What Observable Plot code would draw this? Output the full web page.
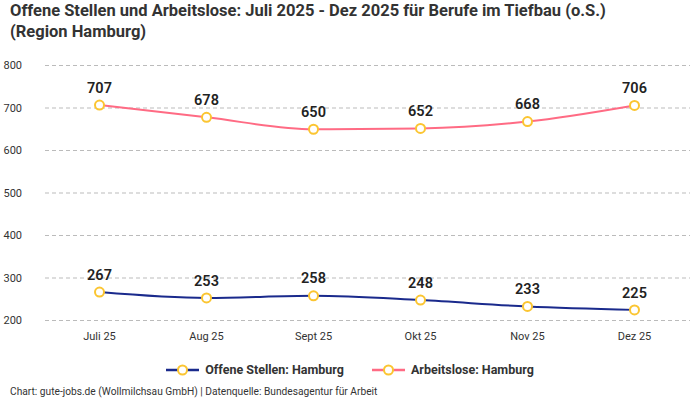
<!DOCTYPE html>
<html><head><meta charset="utf-8">
<script src="https://cdn.jsdelivr.net/npm/d3@7"></script>
<script src="https://cdn.jsdelivr.net/npm/@observablehq/plot@0.6"></script>
<style>
body{margin:0;background:#fff;font-family:"Roboto","Noto Sans",sans-serif;}
#wrap{width:700px;height:400px;position:relative;overflow:hidden;}
#title{position:absolute;left:10px;top:0px;font-size:16.5px;font-weight:700;color:#333;line-height:21px;}
#chart{position:absolute;left:0;top:45px;}
#legend{position:absolute;left:0;width:700px;top:362px;text-align:center;font-size:12.5px;font-weight:700;color:#333;}
#legend span.item{display:inline-flex;align-items:center;margin:0 14px;}
#caption{position:absolute;left:10px;top:386px;font-size:10.2px;color:#333;}
</style></head>
<body><div id="wrap">
<div id="title">Offene Stellen und Arbeitslose: Juli 2025 - Dez 2025 für Berufe im Tiefbau (o.S.)<br>(Region Hamburg)</div>
<div id="chart"></div>
<div id="legend"></div>
<div id="caption">Chart: gute-jobs.de (Wollmilchsau GmbH) | Datenquelle: Bundesagentur für Arbeit</div>
</div>
<script>
const months = ["Juli 25","Aug 25","Sept 25","Okt 25","Nov 25","Dez 25"];
const offeneStellen = [267,253,258,248,233,225];
const arbeitslose = [707,678,650,652,668,706];
const yTicks = [200,300,400,500,600,700,800];
const seriesNames = ["Offene Stellen: Hamburg","Arbeitslose: Hamburg"];
const seriesColors = ["#1a2a8c","#ff6b84"];
const pointStroke = "#fbc531";

const data = [];
months.forEach((m,i)=>{
  data.push({month:m, value:offeneStellen[i], series:seriesNames[0]});
  data.push({month:m, value:arbeitslose[i], series:seriesNames[1]});
});

const chart = Plot.plot({
  width:700, height:310,
  marginTop:20, marginBottom:35, marginLeft:43, marginRight:10,
  style:{fontFamily:"Roboto, sans-serif", fontSize:"11px", color:"#333"},
  x:{type:"point", domain:months, padding:0.5, label:null, tickSize:0, tickPadding:12},
  y:{domain:[200,800], ticks:yTicks, label:null, tickSize:0},
  color:{domain:seriesNames, range:seriesColors},
  marks:[
    Plot.gridY(yTicks,{stroke:"#bbb", strokeOpacity:1, strokeDasharray:"4,3", insetLeft:2}),
    Plot.axisY(yTicks,{tickSize:0, textAnchor:"start", dx:-31, fontSize:11, label:null}),
    Plot.axisX({tickSize:0, tickPadding:12, fontSize:11, label:null}),
    Plot.line(data,{x:"month", y:"value", z:"series", stroke:"series", strokeWidth:2, curve:"monotone-x"}),
    Plot.dot(data,{x:"month", y:"value", r:4.5, fill:"white", stroke:pointStroke, strokeWidth:2}),
    Plot.text(data,{x:"month", y:"value", text:d=>String(d.value), dy:-17, fontSize:14.5, fontWeight:600, fill:"#222"})
  ]
});
document.getElementById("chart").appendChild(chart);

const leg = document.getElementById("legend");
seriesNames.forEach((n,i)=>{
  const s = document.createElement("span"); s.className="item";
  s.innerHTML = `<svg width="33" height="14" style="margin-right:6px"><line x1="0" y1="7" x2="33" y2="7" stroke="${seriesColors[i]}" stroke-width="2.5"/><circle cx="16.5" cy="7" r="4.5" fill="white" stroke="${pointStroke}" stroke-width="2"/></svg>${n}`;
  leg.appendChild(s);
});
</script>
</body></html>
